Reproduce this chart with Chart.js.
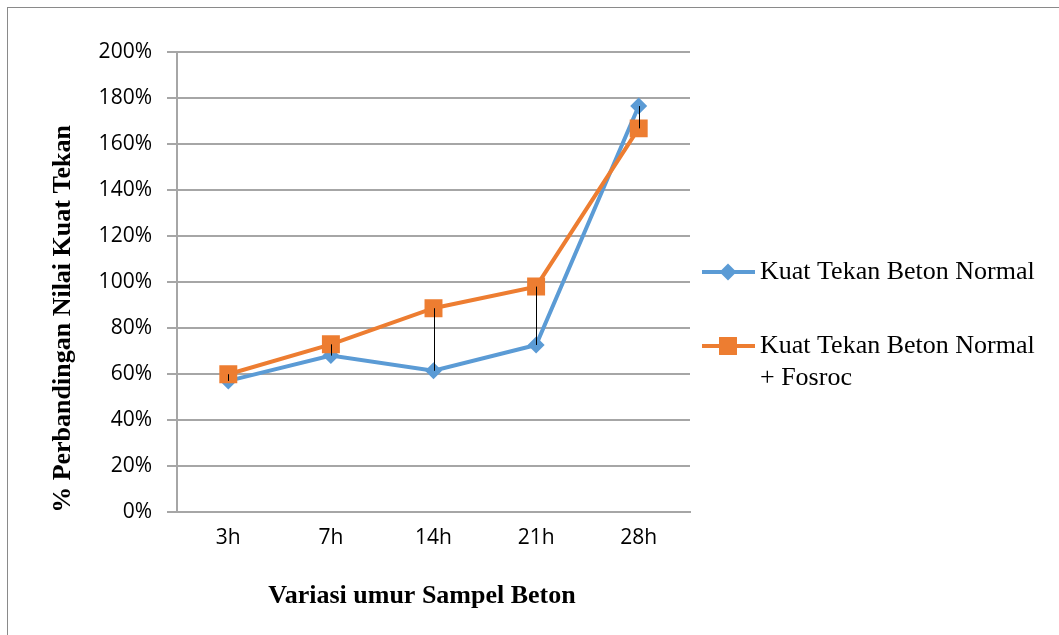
<!DOCTYPE html>
<html>
<head>
<meta charset="utf-8">
<script src="https://cdn.jsdelivr.net/npm/chart.js@4.4.1/dist/chart.umd.min.js"></script>
<style>
    body { margin: 0; background: #fff; }
    #wrap { position: relative; width: 1059px; height: 635px; }
    #frame { position: absolute; left: 7px; top: 7px; right: -2px; bottom: -2px;
             border-left: 1px solid #8a8a8a; border-top: 1px solid #8a8a8a; }
    canvas { position: absolute; left: 0; top: 0; }
</style>
</head>
<body>
<div id="wrap">
    <div id="frame"></div>
    <canvas id="myChart" width="1059" height="635"></canvas>
</div>
<script>
const categories = ['3h', '7h', '14h', '21h', '28h'];
const normalValues = [57, 68, 61.4, 72.6, 176.5];
const fosrocValues = [59.9, 72.9, 88.6, 98, 166.8];
const seriesNames = ['Kuat Tekan Beton Normal', ['Kuat Tekan Beton Normal', '+ Fosroc']];
const yTitle = '% Perbandingan Nilai Kuat Tekan';
const xTitle = 'Variasi umur Sampel Beton';

const blue = '#5b9bd5';
const orange = '#ed7d31';
const serif = '"Liberation Serif", "Times New Roman", serif';

// black lines between the two series at each category
const highLowLines = {
    id: 'highLowLines',
    afterDatasetsDraw(chart) {
        const a = chart.getDatasetMeta(0).data;
        const b = chart.getDatasetMeta(1).data;
        const ctx = chart.ctx;
        ctx.save();
        ctx.strokeStyle = '#000';
        ctx.lineWidth = 1;
        a.forEach((p, i) => {
            const x = Math.round(p.x) + 0.5;
            ctx.beginPath();
            ctx.moveTo(x, b[i].y);
            ctx.lineTo(x, p.y);
            ctx.stroke();
        });
        ctx.restore();
    }
};

// axis titles and legend, drawn like the spreadsheet does
const extras = {
    id: 'extras',
    afterDraw(chart) {
        const ctx = chart.ctx;
        ctx.save();
        ctx.fillStyle = '#000';
        ctx.font = 'bold 26px ' + serif;
        ctx.textAlign = 'center';
        ctx.textBaseline = 'middle';
        ctx.fillText(xTitle, 422, 596);
        ctx.translate(63, 319);
        ctx.rotate(-Math.PI / 2);
        ctx.fillText(yTitle, 0, 0);
        ctx.restore();

        // legend
        const rows = [272, 346];
        ctx.save();
        chart.data.datasets.forEach((ds, i) => {
            const y = rows[i];
            ctx.strokeStyle = ds.borderColor;
            ctx.lineWidth = 4;
            ctx.beginPath();
            ctx.moveTo(702, y);
            ctx.lineTo(755, y);
            ctx.stroke();
            ctx.fillStyle = ds.borderColor;
            const r = ds.pointRadius;
            ctx.beginPath();
            if (ds.pointStyle === 'rectRot') {
                ctx.moveTo(728, y - r);
                ctx.lineTo(728 + r, y);
                ctx.lineTo(728, y + r);
                ctx.lineTo(728 - r, y);
            } else {
                const s = r * Math.SQRT1_2;
                ctx.rect(728 - s, y - s, 2 * s, 2 * s);
            }
            ctx.closePath();
            ctx.fill();
            ctx.fillStyle = '#000';
            ctx.font = '26px ' + serif;
            ctx.textAlign = 'left';
            ctx.textBaseline = 'middle';
            const lines = Array.isArray(seriesNames[i]) ? seriesNames[i] : [seriesNames[i]];
            lines.forEach((t, j) => ctx.fillText(t, 760, y + j * 32));
        });
        ctx.restore();
    }
};

const ctx = document.getElementById('myChart').getContext('2d');
const myChart = new Chart(ctx, {
    type: 'line',
    data: {
        labels: categories,
        datasets: [{
            label: 'Kuat Tekan Beton Normal',
            data: normalValues,
            borderColor: blue,
            backgroundColor: blue,
            borderWidth: 4,
            pointStyle: 'rectRot',
            pointRadius: 8.5,
            pointBorderWidth: 0,
            order: 1
        }, {
            label: 'Kuat Tekan Beton Normal + Fosroc',
            data: fosrocValues,
            borderColor: orange,
            backgroundColor: orange,
            borderWidth: 4,
            pointStyle: 'rect',
            pointRadius: 12.7,
            pointBorderWidth: 0,
            order: 0
        }]
    },
    options: {
        responsive: false,
        animation: false,
        layout: { padding: { left: 0, top: 52, right: 369, bottom: 0 } },
        plugins: {
            legend: { display: false },
            tooltip: { enabled: false }
        },
        scales: {
            x: {
                offset: true,
                afterFit: s => { s.height = 123; },
                grid: { display: false, drawTicks: false },
                border: { color: '#a6a6a6', width: 2 },
                ticks: {
                    color: '#000',
                    padding: 13,
                    font: { family: '"Open Sans", sans-serif', size: 21 }
                }
            },
            y: {
                min: 0,
                max: 200,
                afterFit: s => { s.width = 177; },
                grid: { color: '#a6a6a6', lineWidth: 2, tickLength: 10 },
                border: { color: '#a6a6a6', width: 2 },
                ticks: {
                    stepSize: 20,
                    color: '#000',
                    padding: 15,
                    font: { family: '"Open Sans", sans-serif', size: 21 },
                    callback: v => v + '%'
                }
            }
        }
    },
    plugins: [highLowLines, extras]
});
</script>
</body>
</html>
